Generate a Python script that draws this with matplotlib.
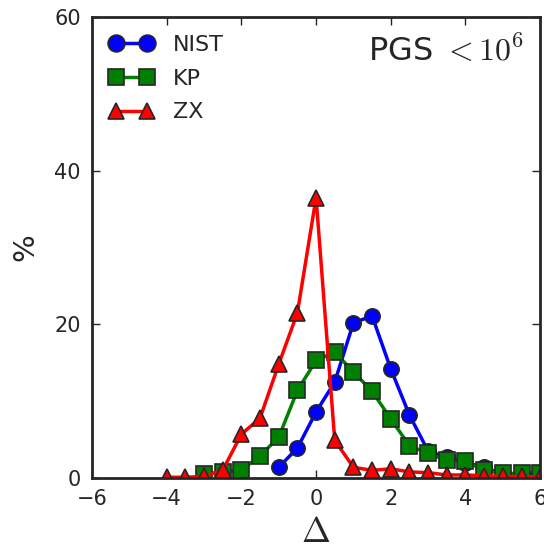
import numpy as np
import matplotlib
matplotlib.use("Agg")
import matplotlib.pyplot as plt

plt.rcParams['mathtext.fontset'] = 'cm'
plt.rcParams['font.family'] = ['DejaVu Sans']

# histogram of deviations, bins of 0.5
x_nist = [-1.0, -0.5, 0.0, 0.5, 1.0, 1.5, 2.0, 2.5, 3.0, 3.5, 4.0, 4.5, 5.0, 5.5, 6.0]
nist = [1.4, 3.9, 8.6, 12.5, 20.2, 21.1, 14.2, 8.2, 3.5, 2.7, 2.0, 1.4, 0.5, 0.3, 0.2]

x_kp = [-3.0, -2.5, -2.0, -1.5, -1.0, -0.5, 0.0, 0.5, 1.0, 1.5, 2.0, 2.5, 3.0, 3.5, 4.0, 4.5, 5.0, 5.5, 6.0]
kp = [0.5, 0.8, 1.0, 2.9, 5.3, 11.4, 15.3, 16.4, 13.8, 11.3, 7.7, 4.2, 3.2, 2.3, 2.2, 1.0, 0.6, 0.6, 0.7]

x_zx = [-4.0, -3.5, -3.0, -2.5, -2.0, -1.5, -1.0, -0.5, 0.0, 0.5, 1.0, 1.5, 2.0, 2.5, 3.0, 3.5, 4.0, 4.5, 5.0, 5.5, 6.0]
zx = [0.1, 0.1, 0.2, 1.0, 5.7, 7.8, 14.8, 21.5, 36.5, 4.9, 1.4, 1.0, 1.2, 0.8, 0.7, 0.4, 0.4, 0.3, 0.2, 0.2, 0.1]

fig = plt.figure(figsize=(5.44, 5.52), dpi=100)
ax = fig.add_axes([0.169, 0.134, 0.824, 0.835])

ec = '#262626'
ax.plot(x_nist, nist, '-o', color='blue', lw=2.5, ms=11, mec=ec, mew=1.2, label='NIST')
ax.plot(x_kp, kp, '-s', color='green', lw=2.5, ms=11, mec=ec, mew=1.2, label='KP')
ax.plot(x_zx, zx, '-^', color='red', lw=2.5, ms=11, mec=ec, mew=1.2, label='ZX')

ax.set_xlim(-6, 6)
ax.set_ylim(0, 60)
ax.set_xticks([-6, -4, -2, 0, 2, 4, 6])
ax.set_yticks([0, 20, 40, 60])
ax.tick_params(direction='in', length=6, width=1, labelsize=15, colors=ec, pad=8)
ax.tick_params(top=True, right=True)
for s in ax.spines.values():
    s.set_linewidth(2)
    s.set_color(ec)

ax.set_xlabel(r'$\Delta$', fontsize=25, color=ec, labelpad=4)
ax.set_ylabel('%', fontsize=21, color=ec, labelpad=11)

ax.text(0.965, 0.96, r'PGS $<10^6$', transform=ax.transAxes, ha='right', va='top',
        fontsize=23, color=ec)

leg = ax.legend(loc='upper left', numpoints=2, frameon=False, fontsize=16,
                handlelength=2.0, labelspacing=0.62, borderaxespad=0.4,
                handletextpad=0.85, markerscale=1.1)
for t in leg.get_texts():
    t.set_color(ec)

fig.savefig('out.png', dpi=100)
